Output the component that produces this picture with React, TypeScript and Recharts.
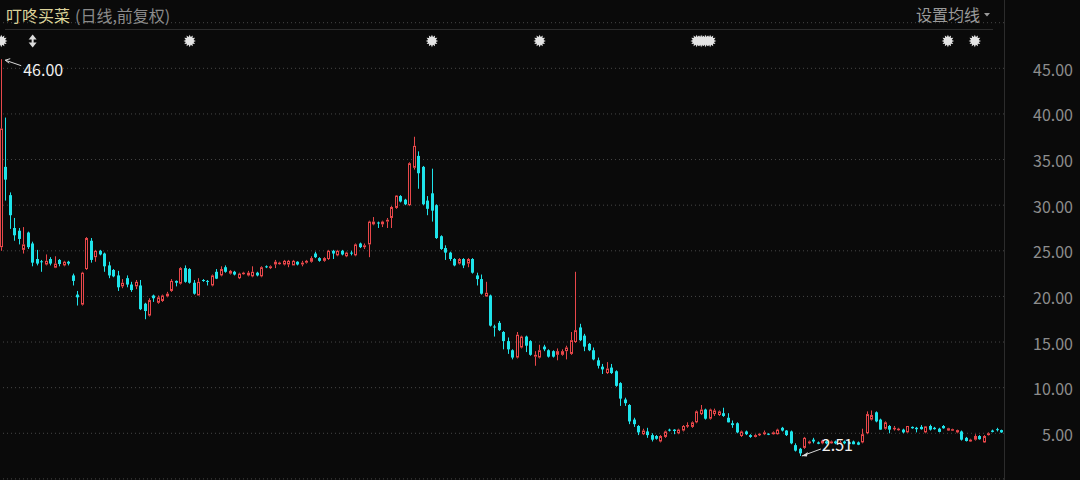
import React from "react";
import { ComposedChart, Bar, XAxis, YAxis, CartesianGrid, ReferenceDot } from "recharts";

const TITLE = "叮咚买菜";
const SUBTITLE = "(日线,前复权)";
const MENU = "设置均线";

const OPEN = [
  25.4, 34.2, 31.1, 27.5, 27.2, 25.1, 27.0, 25.8, 24.1, 23.85,
  23.5, 24.1, 23.15, 24.0, 23.4, 23.8, 22.3, 20.2, 19.1, 23.0,
  26.1, 24.3, 25.0, 24.7, 23.4, 22.9, 22.3, 21.1, 22.0, 21.3,
  21.1, 21.2, 19.2, 17.9, 20.1, 19.3, 19.5, 20.0, 20.6, 21.7,
  21.4, 23.1, 23.0, 21.5, 20.1, 21.8, 21.7, 21.2, 22.7, 22.3,
  23.2, 22.5, 22.7, 22.0, 22.5, 22.3, 22.2, 22.6, 22.2, 23.3,
  23.1, 23.5, 23.6, 23.5, 23.5, 23.4, 23.8, 23.5, 23.7, 23.8,
  24.7, 24.2, 23.9, 24.1, 25.0, 24.5, 25.0, 24.4, 24.8, 24.5,
  25.8, 25.4, 25.7, 27.9, 28.1, 27.9, 28.2, 28.6, 29.7, 31.0,
  30.6, 30.0, 34.1, 35.4, 34.2, 30.5, 31.3, 30.0, 26.6, 25.3,
  24.8, 24.1, 23.6, 24.1, 23.6, 24.1, 22.3, 21.9, 20.0, 20.1,
  16.7, 17.1, 16.1, 15.1, 14.1, 13.3, 14.4, 15.6, 15.1, 13.4,
  13.3, 14.5, 14.1, 14.0, 13.6, 13.6, 14.0, 13.7, 15.0, 16.6,
  15.7, 14.8, 14.1, 13.0, 12.3, 11.6, 12.2, 11.8, 10.5, 8.7,
  8.1, 6.5, 5.8, 4.9, 5.2, 4.8, 4.7, 4.1, 4.6, 5.4,
  5.4, 5.0, 5.3, 5.8, 5.7, 6.2, 7.1, 7.6, 6.6, 7.1,
  7.0, 7.2, 6.7, 6.1, 6.1, 4.7, 5.2, 4.8, 4.6, 4.8,
  4.9, 4.95, 4.9, 4.9, 5.6, 5.3, 5.2, 3.7, 3.3, 3.4,
  3.9, 4.3, 4.0, 3.9, 4.1, 3.9, 4.1, 3.9, 4.1, 4.0,
  4.1, 4.0, 4.0, 5.0, 6.5, 7.3, 6.5, 5.5, 5.8, 5.5,
  5.4, 5.4, 5.1, 5.7, 5.6, 5.7, 5.1, 5.8, 5.6, 5.5,
  5.8, 5.3, 5.3, 5.1, 5.2, 4.5, 4.1, 4.3, 4.7, 4.0,
  4.8, 5.3, 5.45, 5.35,
];

const HIGH = [
  46.0, 39.6, 31.4, 28.6, 27.5, 27.6, 27.1, 26.0, 25.1, 24.0,
  24.6, 24.3, 24.4, 24.1, 23.9, 23.9, 22.5, 20.6, 22.7, 26.5,
  26.4, 25.1, 25.1, 24.8, 23.8, 23.0, 22.8, 21.9, 22.3, 21.6,
  21.8, 21.8, 19.3, 19.8, 20.2, 20.1, 20.2, 20.5, 21.9, 21.75,
  23.2, 23.4, 23.1, 21.8, 22.0, 21.9, 21.8, 22.4, 23.0, 23.3,
  23.4, 22.9, 22.8, 22.6, 22.7, 22.8, 23.3, 22.7, 23.3, 23.4,
  23.4, 24.0, 23.8, 24.0, 24.0, 24.0, 23.85, 23.9, 24.0, 24.4,
  24.9, 24.3, 24.3, 25.1, 25.1, 25.1, 25.1, 24.9, 25.0, 25.8,
  25.9, 25.8, 28.3, 28.7, 28.2, 28.3, 28.6, 29.9, 31.1, 31.1,
  30.7, 34.7, 37.5, 35.9, 34.3, 31.0, 34.0, 30.1, 26.7, 25.6,
  24.9, 24.2, 24.2, 24.2, 24.2, 24.2, 22.6, 22.4, 21.6, 20.2,
  16.9, 17.3, 16.2, 15.5, 14.2, 16.1, 15.7, 15.7, 15.2, 14.0,
  14.7, 14.7, 14.2, 14.1, 14.3, 14.2, 14.6, 16.1, 22.7, 17.0,
  15.9, 14.9, 14.4, 13.3, 12.6, 12.8, 12.6, 11.9, 10.6, 8.9,
  8.2, 6.7, 5.9, 5.5, 5.6, 5.0, 4.8, 4.8, 5.3, 5.5,
  5.45, 5.5, 5.9, 6.2, 6.3, 7.5, 8.1, 7.7, 7.7, 7.7,
  7.5, 7.8, 7.2, 6.4, 6.2, 5.3, 5.3, 4.9, 4.9, 5.0,
  5.3, 5.0, 5.2, 5.5, 5.7, 5.35, 5.3, 3.9, 3.4, 4.6,
  4.2, 4.5, 4.1, 4.3, 4.2, 4.2, 4.2, 4.2, 4.2, 4.1,
  4.2, 4.1, 5.5, 7.4, 7.5, 7.4, 6.6, 6.3, 5.9, 5.8,
  5.6, 5.5, 5.8, 5.75, 5.7, 5.9, 5.8, 5.95, 5.7, 5.6,
  5.9, 5.6, 5.5, 5.4, 5.3, 4.6, 4.4, 4.9, 4.8, 4.8,
  5.1, 5.4, 5.6, 5.4,
];

const LOW = [
  25.0, 30.5, 27.4, 26.1, 25.7, 24.7, 25.2, 23.3, 23.4, 22.7,
  23.4, 23.4, 23.1, 23.3, 23.3, 23.4, 21.2, 19.0, 19.0, 22.9,
  23.7, 23.8, 24.5, 22.7, 22.0, 22.1, 20.6, 20.9, 21.0, 20.5,
  20.8, 18.5, 17.5, 17.8, 19.4, 19.2, 19.4, 19.9, 20.5, 21.1,
  21.3, 21.5, 21.4, 20.2, 20.1, 21.6, 21.2, 21.1, 21.9, 22.2,
  22.6, 22.4, 22.3, 21.9, 22.4, 22.2, 22.1, 22.2, 22.1, 23.1,
  23.0, 23.1, 23.5, 23.4, 23.2, 23.4, 23.4, 23.3, 23.6, 23.7,
  24.2, 23.8, 23.8, 24.0, 24.1, 24.4, 24.5, 24.3, 24.5, 24.4,
  25.3, 25.2, 24.3, 27.8, 27.5, 27.6, 27.5, 27.5, 29.6, 30.3,
  30.0, 29.9, 33.9, 31.8, 30.0, 28.9, 28.2, 26.3, 25.1, 24.0,
  23.9, 23.3, 23.5, 23.1, 23.2, 22.5, 21.2, 20.2, 19.95, 16.7,
  15.6, 16.2, 14.2, 13.7, 13.1, 13.2, 14.3, 13.9, 13.5, 12.4,
  13.2, 14.0, 13.3, 13.3, 13.0, 13.5, 13.1, 13.6, 14.9, 15.1,
  14.0, 14.0, 13.0, 12.1, 11.5, 11.5, 11.5, 10.1, 8.0, 8.0,
  6.0, 5.7, 4.8, 4.8, 4.5, 4.1, 4.3, 4.0, 4.5, 5.2,
  4.9, 4.9, 5.2, 5.6, 5.6, 6.1, 7.0, 6.5, 6.5, 6.9,
  6.9, 6.8, 6.2, 5.6, 5.0, 4.6, 4.8, 4.5, 4.55, 4.7,
  4.8, 4.8, 4.85, 4.85, 5.2, 4.7, 3.8, 3.0, 2.51, 3.3,
  3.8, 3.9, 3.8, 3.8, 3.8, 3.85, 3.8, 3.8, 3.8, 3.8,
  3.8, 3.7, 3.9, 4.9, 6.4, 6.2, 5.4, 5.4, 5.0, 5.3,
  5.3, 5.0, 5.05, 5.5, 5.1, 5.4, 5.0, 5.3, 5.4, 5.1,
  5.5, 5.25, 5.25, 5.0, 4.2, 4.1, 4.05, 4.2, 4.3, 3.95,
  4.75, 5.1, 5.2, 5.05,
];

const CLOSE = [
  38.4, 32.8, 28.9, 26.7, 26.3, 25.7, 25.4, 23.7, 23.6, 23.75,
  23.9, 23.6, 23.6, 23.55, 23.8, 23.6, 21.7, 19.9, 22.6, 26.4,
  24.0, 25.0, 24.6, 23.3, 22.3, 22.2, 21.0, 21.5, 21.3, 20.7,
  21.6, 18.6, 18.4, 19.6, 19.8, 19.9, 20.1, 20.3, 21.7, 21.5,
  23.1, 21.6, 21.5, 20.3, 21.6, 21.7, 21.6, 22.3, 21.95, 23.0,
  22.7, 22.8, 22.4, 22.5, 22.6, 22.6, 22.7, 22.3, 23.2, 23.2,
  23.3, 23.8, 23.7, 23.9, 23.9, 23.9, 23.5, 23.7, 23.9, 24.2,
  24.3, 23.9, 24.2, 25.0, 24.7, 25.0, 24.6, 24.8, 24.7, 25.7,
  25.4, 25.6, 28.2, 28.2, 28.0, 28.2, 28.4, 29.8, 31.05, 30.4,
  30.1, 34.6, 36.5, 33.5, 30.1, 29.6, 29.4, 26.4, 25.2, 24.8,
  24.1, 23.4, 24.1, 23.4, 24.1, 22.6, 21.9, 20.3, 20.4, 16.8,
  16.6, 16.3, 15.1, 14.2, 13.3, 15.8, 15.6, 14.6, 13.6, 13.6,
  14.1, 14.2, 13.4, 13.4, 14.0, 14.0, 14.4, 15.2, 16.3, 15.2,
  14.5, 14.1, 13.1, 12.4, 12.0, 12.1, 11.6, 10.2, 8.8, 8.3,
  6.3, 6.0, 5.1, 5.3, 4.8, 4.3, 4.4, 4.7, 5.2, 5.3,
  5.25, 5.4, 5.8, 5.9, 6.2, 7.4, 7.6, 6.6, 7.6, 7.5,
  7.4, 6.9, 6.2, 5.9, 5.1, 5.2, 4.9, 4.6, 4.8, 4.95,
  5.1, 4.85, 5.1, 5.4, 5.3, 4.8, 3.9, 3.1, 2.8, 4.5,
  4.1, 4.1, 3.85, 4.2, 3.9, 4.1, 3.9, 4.0, 3.9, 3.85,
  3.8, 3.75, 4.9, 7.1, 7.0, 6.3, 5.4, 6.2, 5.4, 5.6,
  5.5, 5.1, 5.8, 5.55, 5.45, 5.45, 5.75, 5.4, 5.45, 5.15,
  5.55, 5.55, 5.45, 5.35, 4.3, 4.15, 4.3, 4.7, 4.35, 4.7,
  5.0, 5.15, 5.4, 5.1,
];

const DAYS = OPEN.map((_, i) => i);
const Y_TICKS = [5, 10, 15, 20, 25, 30, 35, 40, 45];
const Y_DOMAIN = [0, 50];
const EVENT_DAYS = [0, 7, 42, 96, 120, 155, 156, 157, 158, 211, 217];
const EVENT_KINDS = ["star", "split", "star", "star", "star", "star", "star", "star", "star", "star", "star"];
const EVENT_LEVEL = 48;

const BG = "#0a0a0a";
const RED = "#e8474a";
const CYAN = "#1ee3ea";
const FONT = "'Noto Sans CJK SC', 'Noto Sans', sans-serif";

const data = DAYS.map((i) => ({
  i,
  o: OPEN[i],
  h: HIGH[i],
  l: LOW[i],
  c: CLOSE[i],
  range: [LOW[i], HIGH[i]],
}));

const maxIdx = HIGH.indexOf(Math.max(...HIGH));
const minIdx = LOW.indexOf(Math.min(...LOW));

const Candle = (props: any) => {
  const { x, y, width, height, payload } = props;
  if (!payload || x == null) return null;
  const { o, h, l, c } = payload;
  const top = Math.min(y, y + height);
  const hgt = Math.abs(height);
  const span = h - l;
  const py = (v: number) => (span > 0 ? top + ((h - v) / span) * hgt : top);
  const cx = Math.floor(x + width / 2) + 0.5;
  const up = c >= o;
  const color = up ? RED : CYAN;
  const bTop = py(Math.max(o, c));
  const bBot = py(Math.min(o, c));
  const bh = Math.max(bBot - bTop, 1);
  if (up) {
    return (
      <g>
        <line x1={cx} x2={cx} y1={py(h)} y2={bTop} stroke={color} strokeWidth={1} />
        <line x1={cx} x2={cx} y1={bTop + bh} y2={py(l)} stroke={color} strokeWidth={1} />
        <rect x={cx - 1} y={bTop + 0.5} width={2} height={Math.max(bh - 1, 0.5)} fill={BG} stroke={color} strokeWidth={1} />
      </g>
    );
  }
  return (
    <g>
      <line x1={cx} x2={cx} y1={py(h)} y2={py(l)} stroke={color} strokeWidth={1} />
      <rect x={cx - 1.5} y={bTop} width={3} height={bh} fill={color} />
    </g>
  );
};

const starPoints = (cx: number, cy: number) => {
  const pts: string[] = [];
  const n = 12;
  for (let k = 0; k < n * 2; k++) {
    const r = k % 2 === 0 ? 6.2 : 4.0;
    const a = (Math.PI * k) / n - Math.PI / 2;
    pts.push(`${(cx + r * Math.cos(a)).toFixed(2)},${(cy + r * Math.sin(a)).toFixed(2)}`);
  }
  return pts.join(" ");
};

const EventMark = (kind: string) => (props: any) => {
  const { cx, cy } = props;
  if (cx == null) return null;
  if (kind === "split") {
    return (
      <g fill="#dcdcdc" stroke="none">
        <polygon points={`${cx - 4},${cy - 1.5} ${cx + 4},${cy - 1.5} ${cx},${cy - 6.5}`} />
        <polygon points={`${cx - 4},${cy + 1.5} ${cx + 4},${cy + 1.5} ${cx},${cy + 6.5}`} />
        <rect x={cx - 1} y={cy - 2} width={2} height={4} />
      </g>
    );
  }
  return <polygon points={starPoints(cx, cy)} fill="#e4e4e4" />;
};

const MaxMark = (props: any) => {
  const { cx, cy } = props;
  if (cx == null) return null;
  const tx = cx + 4, ty = cy + 1;
  return (
    <g>
      <line x1={tx} y1={ty} x2={cx + 20} y2={cy + 6.5} stroke="#d8d8d8" strokeWidth={1} />
      <polyline points={`${tx + 5},${ty - 1.5} ${tx},${ty} ${tx + 4},${ty + 3}`} fill="none" stroke="#d8d8d8" strokeWidth={1} />
      <text x={cx + 22} y={cy + 17} fill="#f0f0f0" fontSize={16} fontFamily={FONT}>
        {HIGH[maxIdx].toFixed(2)}
      </text>
    </g>
  );
};

const MinMark = (props: any) => {
  const { cx, cy } = props;
  if (cx == null) return null;
  const tx = cx + 2, ty = cy;
  return (
    <g>
      <line x1={tx} y1={ty} x2={cx + 21} y2={cy - 7} stroke="#d8d8d8" strokeWidth={1} />
      <polygon points={`${tx},${ty} ${tx + 6},${ty - 4} ${tx + 5},${ty + 0.5}`} fill="#d8d8d8" />
      <text x={cx + 22} y={cy - 5} fill="#f0f0f0" fontSize={16} fontFamily={FONT}>
        {LOW[minIdx].toFixed(2)}
      </text>
    </g>
  );
};

const PriceTick = (props: any) => {
  const { x, y, payload } = props;
  return (
    <text x={x + 69} y={y} dy={7.5} textAnchor="end" fill="#8d8d8d" fontSize={16} fontFamily={FONT}>
      {Number(payload.value).toFixed(2)}
    </text>
  );
};

export default function App() {
  return (
    <div style={{ position: "relative", width: 1080, height: 480, background: BG, overflow: "hidden" }}>
      <style>{`body{margin:0;background:${BG};}`}</style>
      <div style={{ position: "absolute", left: -1, top: 0 }}>
        <ComposedChart
          width={1081}
          height={480}
          data={data}
          margin={{ top: 22.7, right: 0, bottom: 1.1, left: 0 }}
        >
          <CartesianGrid horizontal vertical={false} stroke="#474747" strokeDasharray="1 3" />
          <XAxis dataKey="i" type="category" hide />
          <YAxis
            orientation="right"
            width={76}
            domain={Y_DOMAIN}
            ticks={Y_TICKS}
            axisLine={false}
            tickLine={false}
            tickSize={0}
            tickMargin={0}
            tick={<PriceTick />}
            allowDataOverflow
            interval={0}
          />
          <Bar dataKey="range" shape={<Candle />} isAnimationActive={false} />
          {EVENT_DAYS.map((d, k) => (
            <ReferenceDot key={`ev${k}`} x={d} y={EVENT_LEVEL} r={0} shape={EventMark(EVENT_KINDS[k])} ifOverflow="visible" />
          ))}
          <ReferenceDot x={maxIdx} y={HIGH[maxIdx]} r={0} shape={MaxMark} ifOverflow="visible" />
          <ReferenceDot x={minIdx} y={LOW[minIdx]} r={0} shape={MinMark} ifOverflow="visible" />
        </ComposedChart>
      </div>
      <svg width={1080} height={480} style={{ position: "absolute", left: 0, top: 0, pointerEvents: "none" }}>
        <text x={6} y={21.5} fontSize={16} fill="#dcd39a" fontFamily={FONT}>{TITLE}</text>
        <text x={75} y={21.5} fontSize={16} fill="#8a8a8a" fontFamily={FONT}>{SUBTITLE}</text>
        <text x={916} y={21} fontSize={16} fill="#9a9a9a" fontFamily={FONT}>{MENU}</text>
        <polygon points="984,13 990,13 987,16.5" fill="#9a9a9a" />
        <line x1={5} x2={993} y1={29.5} y2={29.5} stroke="#2c2c2c" strokeWidth={1} />
        <line x1={1004.5} x2={1004.5} y1={0} y2={480} stroke="#2c2c2c" strokeWidth={1} />
      </svg>
    </div>
  );
}
